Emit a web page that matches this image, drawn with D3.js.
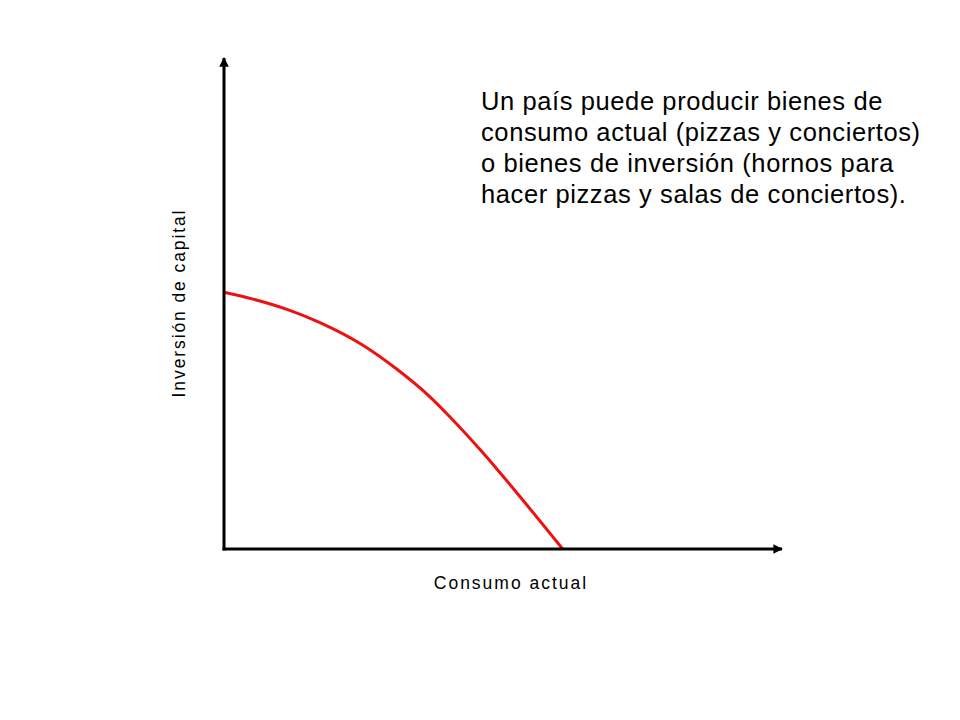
<!DOCTYPE html>
<html>
<head>
<meta charset="utf-8">
<script src="https://cdn.jsdelivr.net/npm/d3@7"></script>
<style>
  body { margin: 0; background: #fff; }
  svg { display: block; font-family: "Liberation Sans", Arial, sans-serif; }
</style>
</head>
<body>
<svg id="chart"></svg>
<script>
// frontera de posibilidades de producción (unidades arbitrarias 0-100)
const consumo = [0, 5.2, 11.3, 17.2, 24.9, 31.0, 36.9, 40.5, 46.4, 52.5, 60.7];
const inversion = [52.3, 50.9, 48.8, 46.1, 41.5, 36.6, 31.0, 26.9, 19.6, 11.4, 0];
const xLabel = "Consumo actual";
const yLabel = "Inversión de capital";
const noteLines = [
  "Un país puede producir bienes de",
  "consumo actual (pizzas y conciertos)",
  "o bienes de inversión (hornos para",
  "hacer pizzas y salas de conciertos)."
];

const width = 960;
const height = 720;
const originX = 224;
const originY = 549;
const axisEndX = 782;
const axisEndY = 58;

const data = consumo.map((c, i) => ({c: c, inv: inversion[i]}));

const x = d3.scaleLinear()
      .domain([0, 100])
      .range([originX, axisEndX]);
const y = d3.scaleLinear()
      .domain([0, 100])
      .range([originY, axisEndY]);

const svg = d3.select("#chart")
      .attr("width", width)
      .attr("height", height)
      .attr("viewBox", [0, 0, width, height]);

svg.append("defs").append("marker")
      .attr("id", "arrow")
      .attr("viewBox", "0 0 10 10")
      .attr("refX", 9)
      .attr("refY", 5)
      .attr("markerWidth", 3.2)
      .attr("markerHeight", 3.2)
      .attr("markerUnits", "strokeWidth")
      .attr("orient", "auto")
      .append("path")
      .attr("d", "M0,0L10,5L0,10z")
      .attr("fill", "#000");

const line = d3.line()
      .x(d => x(d.c))
      .y(d => y(d.inv))
      .curve(d3.curveMonotoneX);

svg.append("path")
      .attr("fill", "none")
      .attr("stroke", "#ee1111")
      .attr("stroke-width", 3)
      .attr("d", line(data));

// ejes
svg.append("line")
      .attr("x1", x(0)).attr("y1", y(0) + 1.5)
      .attr("x2", x(0)).attr("y2", y(100))
      .attr("stroke", "#000")
      .attr("stroke-width", 3)
      .attr("marker-end", "url(#arrow)");
svg.append("line")
      .attr("x1", x(0) - 1.5).attr("y1", y(0))
      .attr("x2", x(100)).attr("y2", y(0))
      .attr("stroke", "#000")
      .attr("stroke-width", 3)
      .attr("marker-end", "url(#arrow)");

svg.append("text")
      .attr("x", 511)
      .attr("y", 588.5)
      .attr("font-size", 17.5)
      .attr("letter-spacing", 2)
      .attr("text-anchor", "middle")
      .attr("fill", "#000")
      .text(xLabel);

svg.append("text")
      .attr("transform", "translate(185,303) rotate(-90)")
      .attr("font-size", 17.5)
      .attr("letter-spacing", 1.9)
      .attr("text-anchor", "middle")
      .attr("fill", "#000")
      .text(yLabel);

svg.append("g")
      .selectAll("text")
      .data(noteLines)
      .join("text")
      .attr("x", 481)
      .attr("y", (d, i) => 110 + i * 31)
      .attr("font-size", 25.5)
      .attr("letter-spacing", 0.6)
      .attr("fill", "#000")
      .text(d => d);
</script>
</body>
</html>
